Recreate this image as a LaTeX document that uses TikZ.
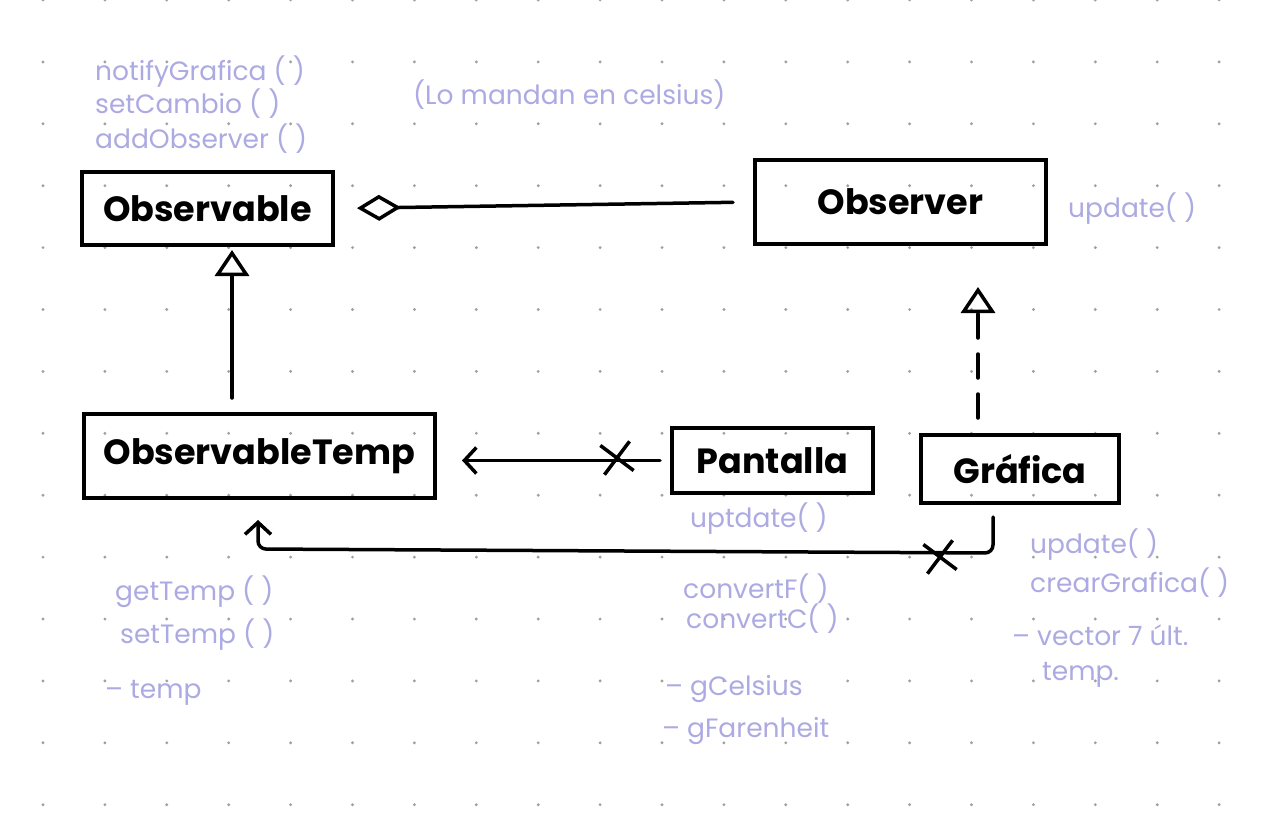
\documentclass[tikz,border=0pt]{standalone}
\usepackage{fontspec}
\setmainfont{Poppins}
\usetikzlibrary{arrows.meta,shapes.misc}
\definecolor{lav}{RGB}{172,170,226}
\definecolor{dotgray}{RGB}{160,160,160}
\tikzset{
  classbox/.style={draw,line width=4pt,inner sep=0pt,font=\fontsize{35}{38}\selectfont\bfseries},
  note/.style={text=lav,anchor=base west,inner sep=0pt,font=\fontsize{26.5}{29}\selectfont},
  conn/.style={line width=3.5pt,line cap=round},
  xmark/.style={draw,cross out,line width=3.5pt,minimum size=26pt,inner sep=0pt}
}
\begin{document}
\begin{tikzpicture}[x=1pt,y=-1pt]
    \useasboundingbox (0,0) rectangle (1280,819);
    \fill[white] (0,0) rectangle (1280,819);
    % dotted paper
    \foreach \i in {0,...,19} {
      \foreach \j in {0,...,13} {
        \fill[dotgray] ({43+61.9*\i},{61.9*\j}) circle (1.6pt);
      }
    }

    % classes
    \node[classbox,minimum width=251pt,minimum height=73pt] (observable) at (207.5,208.5) {Observable};
    \node[classbox,minimum width=291pt,minimum height=84pt] (observer)   at (900.5,202)   {Observer};
    \node[classbox,minimum width=351pt,minimum height=84pt] (otemp)      at (259.5,456)   {ObservableTemp};
    \node[classbox,minimum width=201pt,minimum height=65pt] (pantalla)   at (772.5,460.5) {Pantalla};
    \node[classbox,minimum width=198pt,minimum height=68pt] (grafica)    at (1020,469)    {Gráfica};

    % aggregation Observer -> Observable
    \draw[conn,{Diamond[open,length=44pt,width=26pt,line width=3.5pt]}-,shorten <=22pt,shorten >=20pt]
      (observable.east) -- (observer.west);
    % inheritance + realization
    \draw[conn,-{Triangle[open,length=26pt,width=34pt,line width=3.5pt]},shorten <=14pt,shorten >=3pt]
      (otemp.north -| 232,0) -- (observable.south -| 232,0);
    \draw[conn,dashed,dash pattern=on 24pt off 16pt,-{Triangle[open,length=26pt,width=34pt,line width=3.5pt]},shorten <=15pt,shorten >=41pt]
      (grafica.north -| 978,0) -- (observer.south -| 978,0);

    % Pantalla -> ObservableTemp
    \draw[conn,-{Straight Barb[length=12pt,width=26pt,line width=3.5pt]},shorten <=10pt,shorten >=25pt]
      (pantalla.west) -- (otemp.east |- pantalla.west);
    \node[xmark,rotate=8] (xpant) at (617,458) {};

    % Grafica -> ObservableTemp
    \coordinate (gdown) at (993,553);
    \coordinate (tdown) at (258,549);
    \draw[conn,rounded corners=8pt,-{Straight Barb[length=12pt,width=26pt,line width=3.5pt]},shorten <=12pt,shorten >=20pt]
      (grafica.south -| gdown) -- (gdown) -- (tdown) -- (otemp.south -| tdown);
    \node[xmark,rotate=8] (xgraf) at (940,557) {};

    % notes
    \node[note] (nNotify) at (95,80)  {notifyGrafica ( )};
    \node[note] (nCambio) at (95,113) {setCambio ( )};
    \node[note] (nAdd)    at (95,148) {addObserver ( )};
    \node[note] (nCels)   at (413,104) {(Lo mandan en celsius)};
    \node[note] (nUpd)    at (1068,217) {update( )};
    \node[note] (nUptd)   at (690,527) {uptdate( )};
    \node[note] (nGUpd)   at (1030,553) {update( )};
    \node[note] (nCrear)  at (1030,592) {crearGrafica( )};
    \node[note] (nVec)    at (1012,645) {– vector 7 últ.};
    \node[note] (nVtemp)  at (1042,680) {temp.};
    \node[note] (nConvF)  at (683,598) {convertF( )};
    \node[note] (nConvC)  at (686,628) {convertC( )};
    \node[note] (nGCel)   at (665,695) {– gCelsius};
    \node[note] (nGFar)   at (662,737) {– gFarenheit};
    \node[note] (nGet)    at (115,600) {getTemp ( )};
    \node[note] (nSet)    at (120,643) {setTemp ( )};
    \node[note] (nTemp)   at (105,698) {– temp};
\end{tikzpicture}
\end{document}
